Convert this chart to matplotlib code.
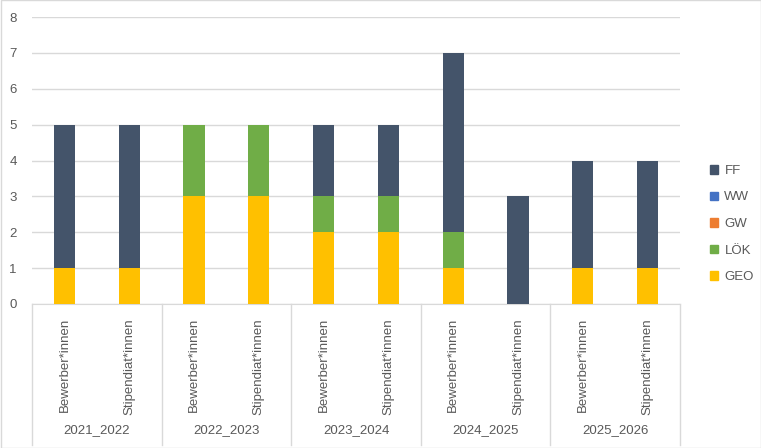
import numpy as np
import matplotlib.pyplot as plt
from matplotlib.patches import Rectangle
from matplotlib.lines import Line2D

plt.rcParams['font.family'] = ['Liberation Sans', 'DejaVu Sans']

jahre = ["2021_2022", "2022_2023", "2023_2024", "2024_2025", "2025_2026"]
gruppen = ["Bewerber*innen", "Stipendiat*innen"]
serien = ["GEO", "LÖK", "GW", "WW", "FF"]
farben = ["#FFC000", "#70AD47", "#ED7D31", "#4472C4", "#44546A"]

# je Balken: Bewerber, Stipendiat pro Jahr
geo = [1, 1, 3, 3, 2, 2, 1, 0, 1, 1]
loek = [0, 0, 2, 2, 1, 1, 1, 0, 0, 0]
gw = [0, 0, 0, 0, 0, 0, 0, 0, 0, 0]
ww = [0, 0, 0, 0, 0, 0, 0, 0, 0, 0]
ff = [4, 4, 0, 0, 2, 2, 5, 3, 3, 3]
werte = [geo, loek, gw, ww, ff]

txt = "#595959"
fs = 9.5
W, H = 761, 448
fig = plt.figure(figsize=(W / 100, H / 100), dpi=100)
ax = fig.add_axes([32 / W, (H - 304) / H, (680 - 32) / W, (304 - 17) / H])

n = len(geo)
x = np.arange(n)
unten = np.zeros(n)
for name, vals, c in zip(serien, werte, farben):
    ax.bar(x, vals, bottom=unten, width=0.33, color=c, label=name, zorder=3)
    unten += np.array(vals)

ax.set_xlim(-0.5, n - 0.5)
ax.set_ylim(0, 8)
ax.set_yticks(range(0, 9))
ax.yaxis.grid(True, color="#D9D9D9", linewidth=1, zorder=0)
for s in ["top", "right", "left"]:
    ax.spines[s].set_visible(False)
ax.spines["bottom"].set_color("#D9D9D9")
ax.tick_params(axis="y", length=0, labelsize=fs, labelcolor=txt, pad=11)
ax.tick_params(axis="x", length=0, labelbottom=False)

# Kategorienbeschriftung
tr = ax.get_xaxis_transform()
for i in range(n):
    ax.text(i, -14 / 287, gruppen[i % 2], rotation=90, ha="center", va="top",
            fontsize=fs, color=txt, transform=tr)
for j, jahr in enumerate(jahre):
    ax.text(2 * j + 0.5, -126 / 287, jahr, ha="center", va="center",
            fontsize=fs, color=txt, transform=tr)
for k in range(len(jahre) + 1):
    ax.add_line(Line2D([2 * k - 0.5, 2 * k - 0.5], [0, -141 / 287], transform=tr,
                       color="#D9D9D9", linewidth=1, clip_on=False))

# Legende
handles = [Rectangle((0, 0), 1, 1, color=c) for c in farben][::-1]
leg = fig.legend(handles, serien[::-1], loc="center left",
                 bbox_to_anchor=(698 / W, (H - 224) / H), frameon=False,
                 handlelength=0.6, handleheight=0.6, handletextpad=0.5,
                 labelspacing=1.1, fontsize=fs)
for t in leg.get_texts():
    t.set_color(txt)

fig.patches.append(Rectangle((0.5 / W, 0.5 / H), 1 - 1 / W, 1 - 1 / H,
                             transform=fig.transFigure, fill=False,
                             edgecolor="#D9D9D9", linewidth=1))

fig.savefig("out.png", dpi=100)
